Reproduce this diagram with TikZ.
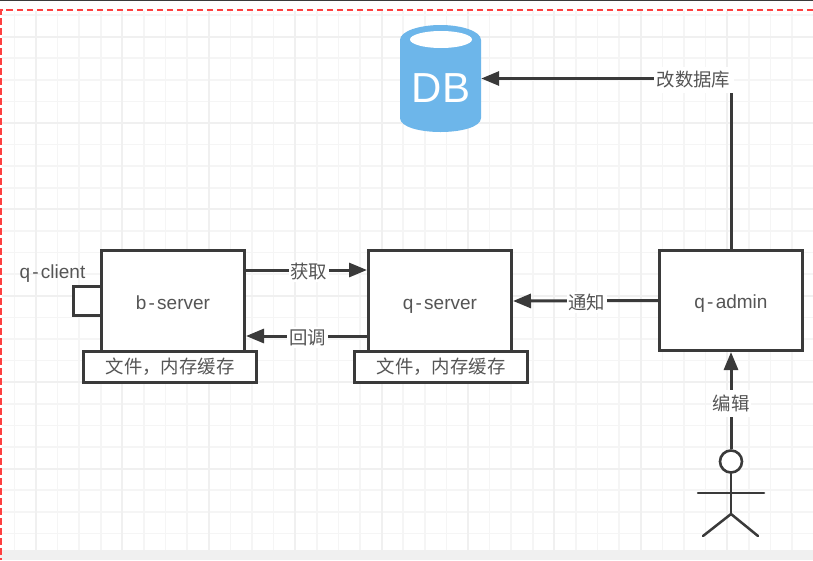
\documentclass[tikz,border=0pt]{standalone}
\usepackage{fontspec}
\setmainfont{Liberation Sans}
\newfontfamily\cjk{Noto Sans CJK SC}
\usetikzlibrary{arrows.meta}
\definecolor{ink}{HTML}{3A3A3A}
\definecolor{txt}{HTML}{555555}
\definecolor{gridc}{HTML}{F5F5F5}
\definecolor{gridm}{HTML}{F0F0F0}
\definecolor{dbblue}{HTML}{6DB6EA}
\definecolor{redline}{HTML}{FF4040}
\newcommand{\hy}{\hspace{2.2pt}-\hspace{2.2pt}}
\tikzset{
  x=1pt,y=-1pt,
  boxn/.style={draw=ink,line width=3pt,fill=white,inner sep=0pt,font=\fontsize{19}{21}\selectfont,text=txt,text height=18pt,text depth=2pt},
  cachen/.style={boxn,font=\cjk\fontsize{18.4}{20}\selectfont,text height=16pt,text depth=2pt},
  conn/.style={draw=ink,line width=3pt,-{Triangle[length=18pt,width=14pt]}},
  lab/.style={fill=white,text=txt,font=\cjk\fontsize{18.4}{20}\selectfont,inner sep=2pt},
  stick/.style={draw=ink,line width=2.5pt,line cap=round},
}
\begin{document}
\begin{tikzpicture}
\useasboundingbox (0,0) rectangle (813,560);
\fill[white] (0,0) rectangle (813,560);
% grid: minor lines first, major lines on top
\foreach \i in {0,...,37}{
  \pgfmathsetmacro\gx{14.4+21.6*\i}
  \draw[gridc,line width=1.6pt] (\gx,11) -- (\gx,550);
}
\foreach \i in {0,...,24}{
  \pgfmathsetmacro\gy{15+21.6*\i}
  \draw[gridc,line width=1.6pt] (2,\gy) -- (813,\gy);
}
\foreach \i in {0,...,9}{
  \pgfmathsetmacro\gx{36+86.4*\i}
  \draw[gridm,line width=2pt] (\gx,11) -- (\gx,550);
}
\foreach \i in {0,...,5}{
  \pgfmathsetmacro\gy{36.5+86.4*\i}
  \draw[gridm,line width=2pt] (2,\gy) -- (813,\gy);
}
% window edges
\fill[gridm] (0,550) rectangle (813,560);
\fill[ink] (0,0) rectangle (813,1);
\draw[redline,line width=1.8pt,dash pattern=on 6.5pt off 3.5pt] (813,10) -- (1,10) -- (1,560);
% database
\fill[dbblue] (400,40) .. controls (400,31) and (420,25) .. (440.5,25)
  .. controls (461,25) and (481,31) .. (481,40) -- (481,118)
  .. controls (481,127) and (461,132) .. (440.5,132)
  .. controls (420,132) and (400,127) .. (400,118) -- cycle;
\fill[white] (441,39.5) ellipse [x radius=31,y radius=8.5];
\node[minimum width=81pt,minimum height=107pt,inner sep=0pt] (db) at (440.5,78.5) {};
\node[text=white,font=\fontsize{42}{44}\selectfont,inner sep=0pt] (dbtext) at (441,88) {DB};
% boxes
\node[boxn,minimum width=28pt,minimum height=29pt] (qc) at (87,300.5) {};
\node[boxn,minimum width=143pt,minimum height=102pt] (bs) at (173,301) {b\hy server};
\node[cachen,minimum width=173.5pt,minimum height=31pt] (bc) at (170,366.5) {文件，内存缓存};
\node[boxn,minimum width=143pt,minimum height=102pt] (qs) at (440,301) {q\hy server};
\node[cachen,minimum width=173.5pt,minimum height=31pt] (qcache) at (441,366.5) {文件，内存缓存};
\node[boxn,minimum width=143pt,minimum height=100pt] (qa) at (731,300.5) {q\hy admin};
\node[text=txt,font=\fontsize{19}{21}\selectfont,inner sep=0pt] (qclabel) at (52.5,274) {q\hy client};
% actor
\node[circle,draw=ink,line width=2.6pt,fill=white,minimum size=22pt,inner sep=0pt] (head) at (731,461.5) {};
\coordinate (hip) at (731,514);
\coordinate (armL) at (698,493);
\coordinate (armR) at (764,493);
\coordinate (legL) at (703,536);
\coordinate (legR) at (758,536);
\draw[stick] (head.south) -- (hip);
\draw[stick] (armL) -- (armR);
\draw[stick] (legL) -- (hip) -- (legR);
% connectors
\coordinate (bsA) at (bs.east |- 0,270);
\coordinate (qsA) at (qs.west |- 0,270);
\coordinate (bsB) at (bs.east |- 0,336);
\coordinate (qsB) at (qs.west |- 0,336);
\draw[conn] (bsA) -- node[lab,pos=.52,yshift=-1.5pt] (l1) {获取} (qsA);
\draw[conn] (qsB) -- node[lab,pos=.49,yshift=-1.5pt] (l2) {回调} (bsB);
\draw[conn] (qa.west) -- node[lab,pos=.49,yshift=-2pt] (l3) {通知} (qs.east);
\draw[conn] (head.north) -- node[lab,pos=.47,minimum height=27pt] (l4) {编辑} (qa.south);
\draw[conn] (qa.north) |- (db.east);
\node[lab,minimum width=80pt,minimum height=26pt,inner sep=0pt] (l5) at (693.5,80) {改数据库};
\end{tikzpicture}
\end{document}
